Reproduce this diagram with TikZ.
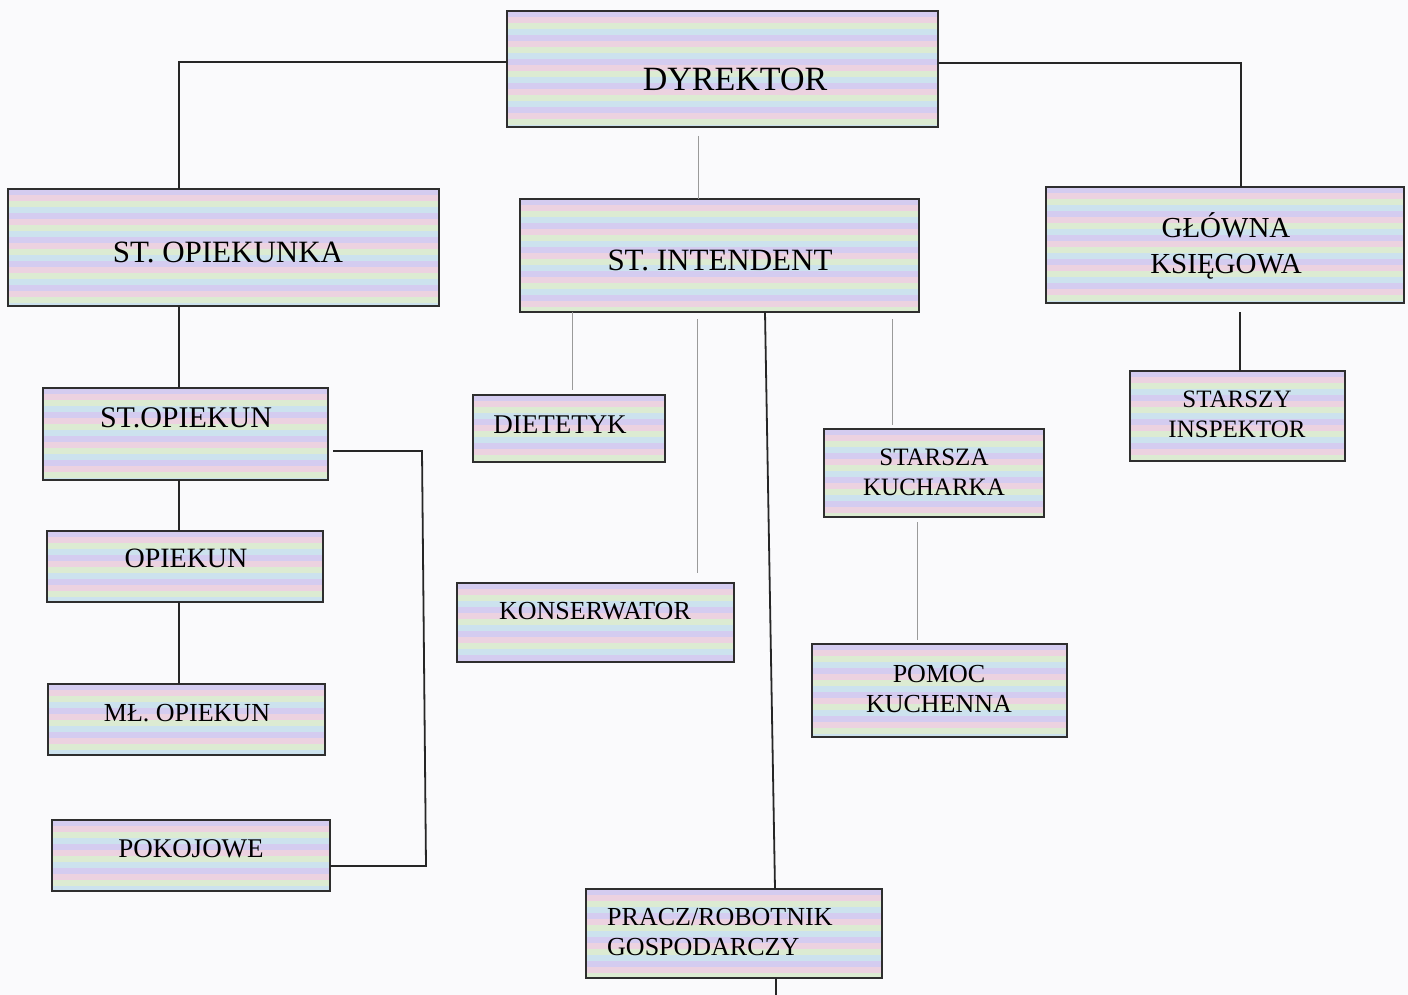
\documentclass[tikz,border=0pt]{standalone}
\usepackage{fontspec}
\setmainfont{Liberation Serif}
\definecolor{stA}{HTML}{D4CCF0}
\definecolor{stB}{HTML}{ECD2E0}
\definecolor{stC}{HTML}{DCEBD2}
\definecolor{stD}{HTML}{CCE2EE}
\definecolor{bgc}{HTML}{FAFAFC}
\definecolor{edge}{HTML}{2E2E2E}
\definecolor{greyline}{HTML}{9A9A9A}
\newcommand{\fs}[1]{\fontsize{#1}{#1}\selectfont}
\tikzset{
  stripes/.style={path picture={
    \foreach \k in {0,...,24}{
      \pgfmathtruncatemacro{\m}{mod(\k,4)}
      \ifcase\m \def\sc{stA}\or\def\sc{stB}\or\def\sc{stC}\or\def\sc{stD}\fi
      \fill[\sc] ([yshift={-\k*6pt}]path picture bounding box.north west) rectangle ([yshift={-\k*6pt-6pt}]path picture bounding box.north east);
    }}},
  orgbox/.style={draw=edge, line width=1.6pt, stripes, inner sep=0pt, outer sep=0pt, anchor=north west},
  lbl/.style={anchor=base, inner sep=0pt, text=black},
  conn/.style={draw=black!85, line width=1.8pt},
  faint/.style={draw=greyline, line width=0.9pt},
}
\newcommand{\orgbox}[5]{\node[orgbox, minimum width={(#4-#2)*1pt}, minimum height={(#5-#3)*1pt}] (#1) at (#2,#3) {};}
\begin{document}
\begin{tikzpicture}[x=1pt,y=-1pt]
\fill[bgc] (0,0) rectangle (1408,995);
\useasboundingbox (0,0) rectangle (1408,995);
% boxes
\orgbox{dyr}{507}{11}{938}{127}
\orgbox{sopk}{8}{189}{439}{306}
\orgbox{sint}{520}{199}{919}{312}
\orgbox{glk}{1046}{187}{1404}{303}
\orgbox{sop}{43}{388}{328}{480}
\orgbox{op}{47}{531}{323}{602}
\orgbox{mop}{48}{684}{325}{755}
\orgbox{pok}{52}{820}{330}{891}
\orgbox{diet}{473}{395}{665}{462}
\orgbox{kons}{457}{583}{734}{662}
\orgbox{skuch}{824}{429}{1044}{517}
\orgbox{pomk}{812}{644}{1067}{737}
\orgbox{sinsp}{1130}{371}{1345}{461}
\orgbox{pracz}{586}{889}{882}{978}
% labels
\node[lbl, font=\fs{34}] (tdyr) at (735,91) {DYREKTOR};
\node[lbl, font=\fs{31}] (tsopk) at (228,262) {ST. OPIEKUNKA};
\node[lbl, font=\fs{31}] (tsint) at (720,270) {ST. INTENDENT};
\node[lbl, font=\fs{29}] (tglk1) at (1226,237) {GŁÓWNA};
\node[lbl, font=\fs{29}] (tglk2) at (1226,273) {KSIĘGOWA};
\node[lbl, font=\fs{30}] (tsop) at (186,427) {ST.OPIEKUN};
\node[lbl, font=\fs{28}] (top) at (186,567) {OPIEKUN};
\node[lbl, font=\fs{26}] (tmop) at (187,721) {MŁ. OPIEKUN};
\node[lbl, font=\fs{27}] (tpok) at (191,857) {POKOJOWE};
\node[lbl, font=\fs{27}] (tdiet) at (560,433) {DIETETYK};
\node[lbl, font=\fs{26}] (tkons) at (595,619) {KONSERWATOR};
\node[lbl, font=\fs{25}] (tskuch1) at (934,465) {STARSZA};
\node[lbl, font=\fs{25}] (tskuch2) at (934,495) {KUCHARKA};
\node[lbl, font=\fs{26}] (tpomk1) at (939,682) {POMOC};
\node[lbl, font=\fs{26}] (tpomk2) at (939,712) {KUCHENNA};
\node[lbl, font=\fs{25}] (tsinsp1) at (1237,407) {STARSZY};
\node[lbl, font=\fs{25}] (tsinsp2) at (1237,437) {INSPEKTOR};
\node[lbl, font=\fs{26}, anchor=base west] (tpracz1) at (607,925) {PRACZ/ROBOTNIK};
\node[lbl, font=\fs{26}, anchor=base west] (tpracz2) at (607,955) {GOSPODARCZY};
% connectors
\draw[conn] (dyr.west |- 0,62) -| (179,0 |- sopk.north);
\draw[conn] (dyr.east |- 0,63) -| (1241,0 |- glk.north);
\draw[faint, shorten <=9pt] (698,0 |- dyr.south) -- (698,0 |- sint.north);
\draw[conn] (179,0 |- sopk.south) -- (179,0 |- sop.north);
\draw[conn] (179,0 |- sop.south) -- (179,0 |- op.north);
\draw[conn] (179,0 |- op.south) -- (179,0 |- mop.north);
\draw[conn, shorten <=5pt] (sop.east |- 0,451) -- (422,451) -- (426,866) -- (pok.east |- 0,866);
\draw[faint, shorten >=5pt] (572,0 |- sint.south) -- (572,0 |- diet.north);
\draw[faint, shorten <=7pt, shorten >=10pt] (697,0 |- sint.south) -- (697,0 |- kons.north);
\draw[conn] (765,0 |- sint.south) -- (775,0 |- pracz.north);
\draw[conn] (776,0 |- pracz.south) -- (776,995);
\draw[faint, shorten <=7pt, shorten >=4pt] (892,0 |- sint.south) -- (892,0 |- skuch.north);
\draw[faint, shorten <=5pt, shorten >=4pt] (917,0 |- skuch.south) -- (917,0 |- pomk.north);
\draw[conn, shorten <=9pt] (1240,0 |- glk.south) -- (1240,0 |- sinsp.north);
\end{tikzpicture}
\end{document}
